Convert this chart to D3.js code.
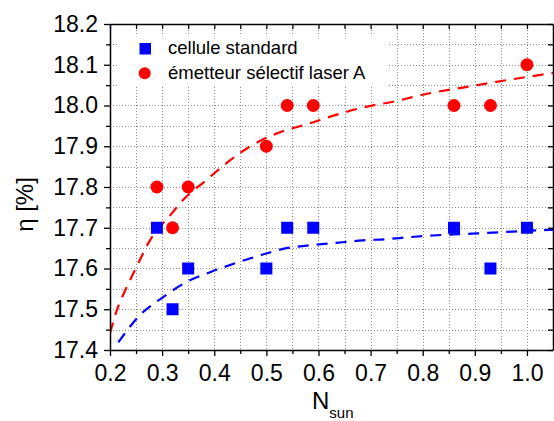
<!DOCTYPE html>
<html><head><meta charset="utf-8">
<script src="https://d3js.org/d3.v7.min.js"></script>
<style>body{margin:0;background:#fff}svg{display:block;font-family:"Liberation Sans",Arial,sans-serif}</style>
</head><body><svg width="554" height="421"></svg>
<script>
// ---- data ----
const nSun = [0.29, 0.32, 0.35, 0.5, 0.54, 0.59, 0.86, 0.93, 1.0];
const etaStandard = [17.7, 17.5, 17.6, 17.6, 17.7, 17.7, 17.7, 17.6, 17.7];
const etaLaser = [17.8, 17.7, 17.8, 17.9, 18.0, 18.0, 18.0, 18.0, 18.1];
const fitStdX = [0.216, 0.257, 0.302, 0.347, 0.392, 0.443, 0.487, 0.532, 0.583, 0.634, 0.685, 0.730, 0.775, 0.819, 0.903, 0.947, 1.03, 1.05];
const fitStdY = [17.419, 17.485, 17.530, 17.567, 17.591, 17.614, 17.632, 17.648, 17.657, 17.663, 17.669, 17.672, 17.677, 17.681, 17.686, 17.689, 17.694, 17.695];
const fitLasX = [0.2, 0.213, 0.229, 0.251, 0.273, 0.319, 0.340, 0.385, 0.427, 0.468, 0.519, 0.583, 0.621, 0.685, 0.749, 0.813, 0.877, 0.941, 1.010, 1.05];
const fitLasY = [17.441, 17.497, 17.546, 17.604, 17.661, 17.736, 17.768, 17.817, 17.862, 17.899, 17.931, 17.956, 17.972, 17.995, 18.011, 18.030, 18.044, 18.058, 18.072, 18.080];
const xTickValues = [0.2, 0.3, 0.4, 0.5, 0.6, 0.7, 0.8, 0.9, 1.0];
const xMinorValues = [0.25, 0.35, 0.45, 0.55, 0.65, 0.75, 0.85, 0.95];
const yTickValues = [17.4, 17.5, 17.6, 17.7, 17.8, 17.9, 18.0, 18.1, 18.2];
const yMinorValues = [17.45, 17.55, 17.65, 17.75, 17.85, 17.95, 18.05, 18.15];
const seriesNames = ["cellule standard", "émetteur sélectif laser A"];
const seriesColors = ["#0000ff", "#ff0000"];

// ---- layout ----
const L = 110, R = 553, T = 24, B = 350;
const svg = d3.select("svg");
const x = d3.scaleLinear().domain([0.2, 1.05]).range([L, R]);
const y = d3.scaleLinear().domain([17.4, 18.2]).range([B, T]);

svg.append("defs").append("clipPath").attr("id", "clip")
  .append("rect").attr("x", L).attr("y", T).attr("width", R - L).attr("height", B - T);

// grid
const grid = svg.append("g").attr("stroke", "#8a8a8a").attr("stroke-width", 1).attr("stroke-dasharray", "1,2");
const gx = xTickValues.concat(xMinorValues).filter(v => v > 0.2);
const gy = yTickValues.concat(yMinorValues).filter(v => v > 17.4 && v < 18.2);
grid.selectAll(".gx").data(gx).join("line")
  .attr("x1", d => Math.round(x(d)) + 0.5).attr("x2", d => Math.round(x(d)) + 0.5).attr("y1", T).attr("y2", B);
grid.selectAll(".gy").data(gy).join("line")
  .attr("y1", d => Math.round(y(d)) + 0.5).attr("y2", d => Math.round(y(d)) + 0.5).attr("x1", L).attr("x2", R);

// legend background
svg.append("rect").attr("x", 118).attr("y", 36).attr("width", 270).attr("height", 50).attr("fill", "#fff");

// fit lines
const line = d3.line().x(d => x(d[0])).y(d => y(d[1])).curve(d3.curveMonotoneX);
const fits = [d3.zip(fitStdX, fitStdY), d3.zip(fitLasX, fitLasY)];
svg.append("g").attr("clip-path", "url(#clip)").selectAll("path").data(fits).join("path")
  .attr("d", line).attr("fill", "none").attr("stroke", (d, i) => seriesColors[i])
  .attr("stroke-width", 2.2).attr("stroke-dasharray", "11,8");

// points
svg.append("g").selectAll("rect").data(d3.zip(nSun, etaStandard)).join("rect")
  .attr("x", d => x(d[0]) - 6).attr("y", d => y(d[1]) - 6).attr("width", 12).attr("height", 12)
  .attr("fill", seriesColors[0]);
svg.append("g").selectAll("circle").data(d3.zip(nSun, etaLaser)).join("circle")
  .attr("cx", d => x(d[0])).attr("cy", d => y(d[1])).attr("r", 6.5)
  .attr("fill", seriesColors[1]);

// axes
function styleAxis(g) {
  g.select(".domain").attr("stroke", "#000").attr("stroke-width", 1.5);
  g.selectAll(".tick line").attr("stroke", "#000").attr("stroke-width", 1.3);
  g.selectAll("text").attr("fill", "#000").style("font-size", "23px").style("font-family", '"Liberation Sans",Arial,sans-serif');
}
const fmt = d3.format(".1f");
const bx = svg.append("g").attr("transform", `translate(0,${B})`)
  .call(d3.axisBottom(x).tickValues(xTickValues).tickSize(6).tickSizeOuter(0).tickFormat(fmt)).call(styleAxis);
bx.selectAll("text").attr("y", 31).attr("dy", 0);
svg.append("g").attr("transform", `translate(0,${B})`)
  .call(d3.axisBottom(x).tickValues(xMinorValues).tickSize(4).tickSizeOuter(0).tickFormat("")).call(styleAxis)
  .select(".domain").remove();
const lx = svg.append("g").attr("transform", `translate(${L},0)`)
  .call(d3.axisLeft(y).tickValues(yTickValues).tickSize(6).tickSizeOuter(0).tickFormat(fmt)).call(styleAxis);
lx.selectAll("text").attr("x", -12).attr("dy", "0.32em");
svg.append("g").attr("transform", `translate(${L},0)`)
  .call(d3.axisLeft(y).tickValues(yMinorValues).tickSize(4).tickSizeOuter(0).tickFormat("")).call(styleAxis)
  .select(".domain").remove();
// top & right (inward)
svg.append("g").attr("transform", `translate(0,${T})`)
  .call(d3.axisTop(x).tickValues(xTickValues.concat(xMinorValues)).tickSize(-5).tickSizeOuter(0).tickFormat("")).call(styleAxis);
svg.append("g").attr("transform", `translate(${R},0)`)
  .call(d3.axisRight(y).tickValues(yTickValues.concat(yMinorValues)).tickSize(-5).tickSizeOuter(0).tickFormat("")).call(styleAxis);

// axis titles
const xt = svg.append("text").attr("x", 312).attr("y", 409).attr("fill", "#000").style("font-size", "24px");
xt.append("tspan").text("N");
xt.append("tspan").attr("dy", 9).style("font-size", "15px").text("sun");
svg.append("text").attr("transform", "translate(33,204.5) rotate(-90)").attr("text-anchor", "middle")
  .attr("fill", "#000").style("font-size", "24px").text("η [%]");

// legend
const lg = svg.append("g");
lg.append("rect").attr("x", 139.5).attr("y", 43).attr("width", 11.5).attr("height", 11.5).attr("fill", seriesColors[0]);
lg.append("circle").attr("cx", 144.7).attr("cy", 73.3).attr("r", 6).attr("fill", seriesColors[1]);
lg.selectAll("text").data(seriesNames).join("text")
  .attr("x", 168).attr("y", (d, i) => 54.3 + i * 24.5).attr("fill", "#000").style("font-size", "18.5px").text(d => d);
</script></body></html>
